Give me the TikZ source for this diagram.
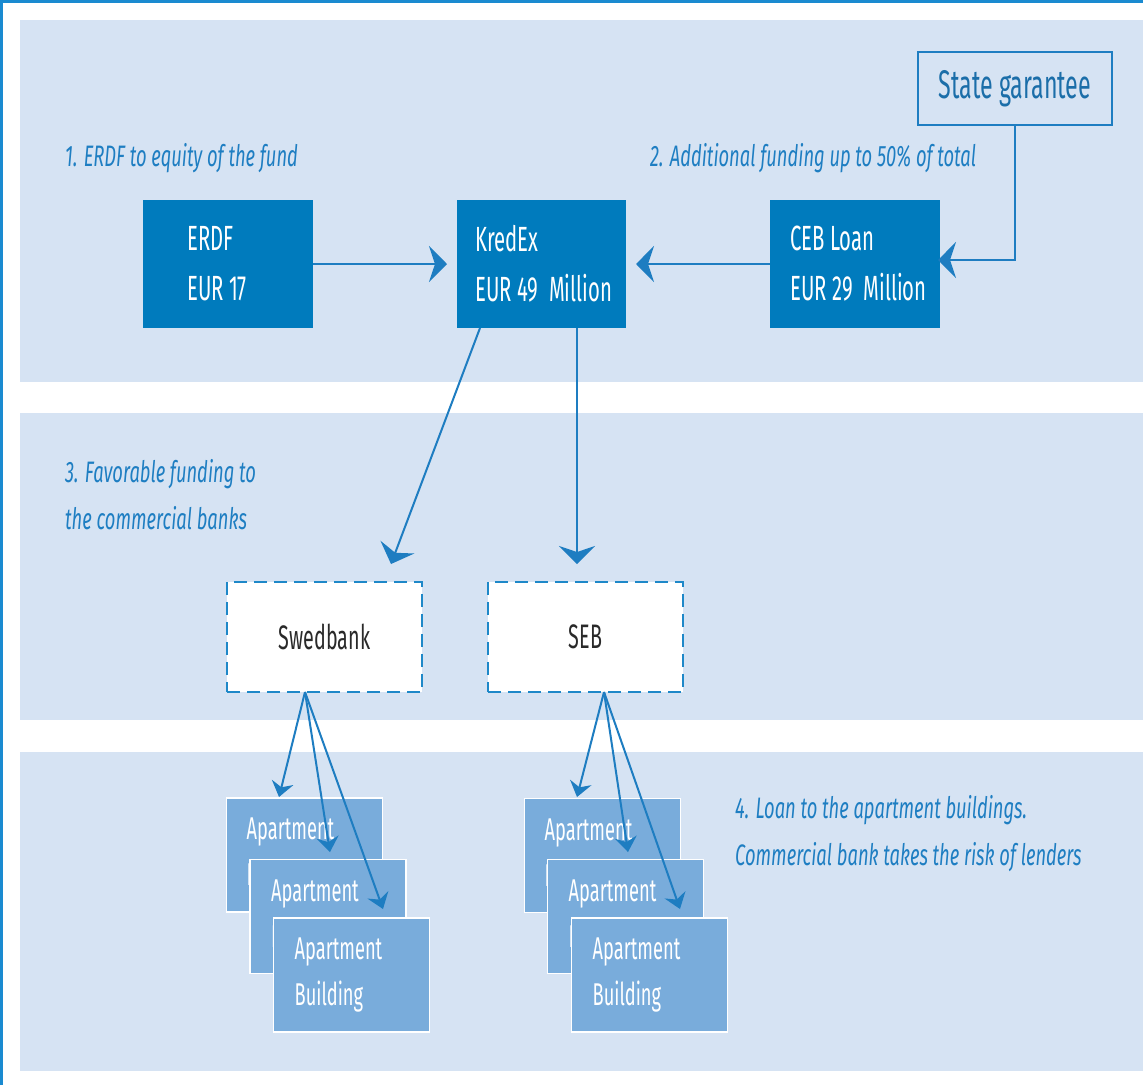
\documentclass[tikz,border=0pt]{standalone}
\usepackage{fontspec}
\usetikzlibrary{arrows.meta}
\newfontfamily\dfont{Fira Sans}[FakeStretch=0.58]
\newfontfamily\lfont{Fira Sans}[FakeStretch=0.62]
\definecolor{band}{HTML}{D6E3F3}
\definecolor{darkbl}{HTML}{007BBD}
\definecolor{aptbl}{HTML}{79ACDB}
\definecolor{linebl}{HTML}{1E7DC1}
\definecolor{framebl}{HTML}{1A8AD0}
\definecolor{dashbl}{HTML}{1E88C8}
\definecolor{labbl}{HTML}{1E7EC2}
\definecolor{stxt}{HTML}{1B6EA9}
\definecolor{banktxt}{HTML}{2A2A2A}
\begin{document}
\begin{tikzpicture}[x=1pt,y=-1pt,
  darkbox/.style={fill=darkbl, draw=none, minimum width=170pt, minimum height=128pt, inner sep=0pt, outer sep=0pt},
  wtext/.style={text=white, font=\dfont\fontsize{35}{50}\selectfont, align=left, inner sep=0pt, anchor=west},
  apttext/.style={text=white, font=\dfont\fontsize{31.5}{46}\selectfont, align=left, inner sep=0pt, anchor=west},
  aptbox/.style={fill=aptbl, draw=white, line width=1.5pt, minimum width=156pt, minimum height=114pt, inner sep=0pt, outer sep=0pt},
  bankbox/.style={fill=white, draw=dashbl, line width=2.5pt, dash pattern=on 13pt off 7pt, minimum width=195pt, minimum height=110pt, inner sep=0pt, outer sep=0pt, text=banktxt, font=\dfont\fontsize{34}{40}\selectfont},
  labtext/.style={text=labbl, font=\lfont\itshape\fontsize{29.6}{47}\selectfont, align=left, inner sep=0pt, anchor=west},
  arr/.style={draw=linebl, line width=2pt, -{Stealth[length=18pt,width=36pt,inset=6pt]}},
  sarr/.style={draw=linebl, line width=2pt, -{Stealth[length=15pt,width=22pt,inset=5pt]}}
]
\useasboundingbox (0,0) rectangle (1143,1085);
% bands
\fill[band] (20,20) rectangle (1143,382);
\fill[band] (20,413) rectangle (1143,720);
\fill[band] (20,752) rectangle (1143,1071);
% frame
\draw[framebl, line width=3pt] (1.5,1085) -- (1.5,1.5) -- (1143,1.5);

% top boxes
\node[darkbox] (erdf) at (228,264) {};
\node[wtext, xshift=44pt] (erdft) at (erdf.west) {ERDF\\EUR 17};
\node[darkbox, minimum width=169pt] (kredex) at (541.5,264) {};
\node[wtext, xshift=18pt] (kredext) at (kredex.west) {KredEx\\EUR 49\hspace{11pt}Million};
\node[darkbox] (ceb) at (855,264) {};
\node[wtext, xshift=20pt] (cebt) at (ceb.west) {CEB Loan\\EUR 29\hspace{11pt}Million};
\node[draw=linebl, line width=2pt, fill=band, minimum width=194pt, minimum height=73pt, inner sep=0pt, text=stxt, font=\dfont\fontsize{40}{44}\selectfont] (state) at (1015,88.5) {State garantee};

% labels
\node[labtext] (lab1) at (65,158) {1. ERDF to equity of the fund};
\node[labtext] (lab2) at (650,158) {2. Additional funding up to 50\% of total};
\node[labtext] (lab3) at (65,495) {3. Favorable funding to\\the commercial banks};
\node[labtext] (lab4) at (735,833.5) {4. Loan to the apartment buildings.\\Commercial bank takes the risk of lenders};

% banks
\node[bankbox] (swed) at (324.5,637) {Swedbank};
\node[bankbox] (seb) at (585.5,637) {SEB};

% apartments left
\node[aptbox] (a1) at (304.5,855) {};
\node[apttext, xshift=20pt] (a1t) at (a1.west) {Apartment\\Building};
\node[aptbox] (a2) at (328,916.5) {};
\node[apttext, xshift=21pt] (a2t) at (a2.west) {Apartment\\Building};
\node[aptbox] (a3) at (351.5,975) {};
\node[apttext, xshift=21pt] (a3t) at (a3.west) {Apartment\\Building};
% apartments right
\node[aptbox] (b1) at (602.5,855.5) {};
\node[apttext, xshift=20pt] (b1t) at (b1.west) {Apartment\\Building};
\node[aptbox] (b2) at (625.5,916.5) {};
\node[apttext, xshift=21pt] (b2t) at (b2.west) {Apartment\\Building};
\node[aptbox] (b3) at (649.5,975) {};
\node[apttext, xshift=21pt] (b3t) at (b3.west) {Apartment\\Building};

% coordinates for arrow ends
\coordinate (kxa) at (480,328);
\coordinate (kxb) at (577,328);
\coordinate (swin) at (391,564);
\coordinate (sebin) at (577,564);
\coordinate (swout) at (305,692);
\coordinate (sebout) at (604,692);
\coordinate (a1in) at (279,797);
\coordinate (a2in) at (330,852);
\coordinate (a3in) at (383,909);
\coordinate (b1in) at (577,797);
\coordinate (b2in) at (628,852);
\coordinate (b3in) at (680,909);

% connectors
\draw[arr, shorten >=10pt] (erdf) -- (kredex);
\draw[arr, shorten >=10pt] (ceb) -- (kredex);
\draw[arr, shorten >=-2pt] (state.south) |- ([yshift=4pt]ceb.east);
\draw[arr] (kxa) -- (swin);
\draw[arr] (kxb) -- (sebin);
\draw[sarr] (swout) -- (a1in);
\draw[sarr] (swout) -- (a2in);
\draw[sarr] (swout) -- (a3in);
\draw[sarr] (sebout) -- (b1in);
\draw[sarr] (sebout) -- (b2in);
\draw[sarr] (sebout) -- (b3in);
\end{tikzpicture}
\end{document}
